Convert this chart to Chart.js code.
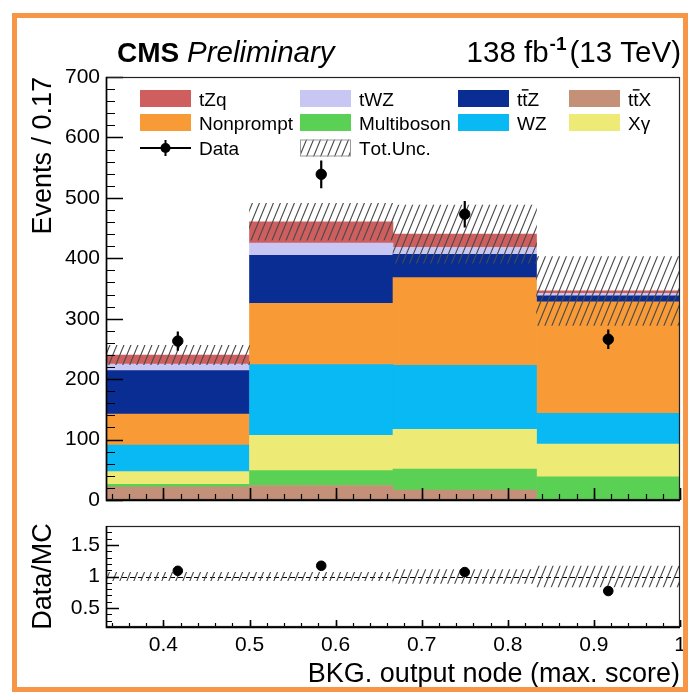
<!DOCTYPE html>
<html><head><meta charset="utf-8">
<script src="https://cdn.jsdelivr.net/npm/chart.js@4.4.1/dist/chart.umd.min.js"></script>
<style>
html,body{margin:0;padding:0;background:#fff;}
#wrap{position:relative;width:692px;height:695px;overflow:hidden;background:#fff;}
#frame{position:absolute;left:12px;top:13px;width:676px;height:679px;box-sizing:border-box;border:5px solid #F79646;pointer-events:none;}
#c1{position:absolute;left:0;top:0;}
#c2{position:absolute;left:0;top:515px;}
</style></head><body>
<div id="wrap"><canvas id="c1" width="692" height="515"></canvas><canvas id="c2" width="692" height="180"></canvas><div id="frame"></div></div>
<script>
// ---------------- data ----------------
const binLabels = ['0.333-0.5', '0.5-0.667', '0.667-0.833', '0.833-1'];
const binCenters = [0.4167, 0.5833, 0.75, 0.9167];
const xRange = [0.3333, 1.0];

const ttX        = [22, 24, 16.5, 0];
const multiboson = [4, 24.5, 34.5, 38.5];
const xgamma     = [21, 58.5, 66, 54];
const wz         = [44, 117, 106, 51];
const nonprompt  = [51, 101.5, 145, 184.5];
const ttZ        = [72, 79.5, 38.5, 10];
const tWZ        = [11, 20, 11.5, 4];
const tZq        = [15, 35.5, 22, 4];

const totUncUp   = [256, 491, 488, 403];
const totUncDown = [224, 430, 392, 289];

const dataVals = [263, 539, 473, 266];
const dataErr  = [16, 23, 22, 16];

const ratioVals     = [1.09, 1.17, 1.07, 0.77];
const ratioUncUp    = [1.065, 1.066, 1.11, 1.165];
const ratioUncDown  = [0.935, 0.934, 0.89, 0.835];

const yTicksMain  = [0, 100, 200, 300, 400, 500, 600, 700];
const yTicksRatio = [0.5, 1, 1.5];
const xTicks      = [0.4, 0.5, 0.6, 0.7, 0.8, 0.9, 1];
const xTickLabels = ['0.4', '0.5', '0.6', '0.7', '0.8', '0.9', '1'];

const legendNames = ['tZq', 'tWZ', 'tt\u0304Z', 'tt\u0304X', 'Nonprompt', 'Multiboson', 'WZ', 'X\u03b3', 'Data', 'Tot.Unc.'];

// ---------------- styles ----------------
const FONT = "'Liberation Sans', Arial, Helvetica, sans-serif";
Chart.defaults.font.family = FONT;
Chart.defaults.color = '#000';

const COL = {
  tZq: '#CF5E5F', tWZ: '#C8C7F4', ttZ: '#0A2D93', ttX: '#C49178',
  nonprompt: '#F89A36', multiboson: '#5AD155', wz: '#08B9F4', xgamma: '#EEEA76'
};

function makeHatch(canvas, color) {
  const w = 7, h = 17;
  const c = document.createElement('canvas'); c.width = w; c.height = h;
  const g = c.getContext('2d');
  g.strokeStyle = color; g.lineWidth = 1.1;
  g.beginPath();
  for (let n = 0; n <= 2; n++) { g.moveTo(n * w - 2 * w, 2 * h); g.lineTo(n * w + w, -h); }
  g.stroke();
  return canvas.getContext('2d').createPattern(c, 'repeat');
}

function drawRich(ctx, text, x, yBase, size) {
  let cx = x;
  const chars = Array.from(text);
  for (let i = 0; i < chars.length; i++) {
    const ch = chars[i];
    if (ch === '\u0304') continue;
    const bar = chars[i + 1] === '\u0304';
    ctx.fillText(ch, cx, yBase);
    const w = ctx.measureText(ch).width;
    if (bar) ctx.fillRect(cx - 0.5, yBase - 0.86 * size, w + 1.5, 1.4);
    cx += w;
  }
}

const yMinorMain = []; for (let k = 0; k <= 35; k++) yMinorMain.push(k * 20);
const xMinor = []; for (let k = 17; k <= 50; k++) xMinor.push(+(k * 0.02).toFixed(2));
const yMinorRatio = []; for (let k = 3; k <= 17; k++) yMinorRatio.push(+(k * 0.1).toFixed(1));

const frameTicks = {
  id: 'frameTicks',
  afterDatasetsDraw(chart, args, o) {
    const ctx = chart.ctx, a = chart.chartArea;
    const xs = chart.scales.x, ys = chart.scales.y;
    ctx.save();
    ctx.strokeStyle = '#000';
    const seg = (list, major, len, horiz) => {
      ctx.beginPath();
      list.forEach(v => {
        if (horiz) {
          const p = Math.round(ys.getPixelForValue(v)) + 0.5;
          if (p < a.top || p > a.bottom + 1) return;
          ctx.moveTo(a.left, p); ctx.lineTo(a.left + len, p);
        } else {
          const p = Math.round(xs.getPixelForValue(v)) + 0.5;
          if (p < a.left - 1 || p > a.right + 1) return;
          ctx.moveTo(p, a.bottom); ctx.lineTo(p, a.bottom - len);
        }
      });
      ctx.lineWidth = major ? 1.6 : 1.2;
      ctx.stroke();
    };
    seg(o.yMinor, false, o.yMinorLen, true);
    seg(o.yMajor, true, o.yMajorLen, true);
    seg(xMinor, false, o.xMinorLen, false);
    seg(xTicks, true, o.xMajorLen, false);
    ctx.lineWidth = 1.2;
    ctx.strokeStyle = '#222';
    ctx.strokeRect(a.left + 0.5, a.top + 0.5, a.right - a.left - 1, a.bottom - a.top - 1);
    ctx.lineWidth = 1.6; ctx.strokeStyle = '#000';
    ctx.beginPath(); ctx.moveTo(a.left + 0.5, a.top); ctx.lineTo(a.left + 0.5, a.bottom + 0.5); ctx.lineTo(a.right, a.bottom + 0.5); ctx.stroke();
    ctx.restore();
  }
};

// ---------------- main chart ----------------
const c1 = document.getElementById('c1');
const hatch1 = makeHatch(c1, '#4a4a4a');

const stackDefs = [
  ['tt\u0304X', ttX, COL.ttX], ['Multiboson', multiboson, COL.multiboson], ['X\u03b3', xgamma, COL.xgamma],
  ['WZ', wz, COL.wz], ['Nonprompt', nonprompt, COL.nonprompt], ['tt\u0304Z', ttZ, COL.ttZ],
  ['tWZ', tWZ, COL.tWZ], ['tZq', tZq, COL.tZq]
];

const errBars = {
  id: 'errBars',
  afterDatasetsDraw(chart) {
    const ctx = chart.ctx, xs = chart.scales.x, ys = chart.scales.y;
    ctx.save(); ctx.strokeStyle = '#000'; ctx.lineWidth = 2.2;
    ctx.beginPath();
    binCenters.forEach((c, i) => {
      const px = xs.getPixelForValue(c);
      ctx.moveTo(px, ys.getPixelForValue(dataVals[i] - dataErr[i]));
      ctx.lineTo(px, ys.getPixelForValue(dataVals[i] + dataErr[i]));
    });
    ctx.stroke(); ctx.restore();
  }
};

const legendAndHeader = {
  id: 'legendAndHeader',
  afterDraw(chart) {
    const ctx = chart.ctx;
    ctx.save();
    ctx.fillStyle = '#000'; ctx.textBaseline = 'alphabetic'; ctx.textAlign = 'left';
    ctx.font = `bold 28px ${FONT}`;
    ctx.fillText('CMS', 117, 62);
    const wCMS = ctx.measureText('CMS ').width;
    ctx.font = `italic 29.5px ${FONT}`;
    ctx.fillText('Preliminary', 117 + wCMS, 62);
    const big = `29.5px ${FONT}`, sup = `bold 19px ${FONT}`;
    ctx.font = big;
    const p3 = '(13 TeV)', p1 = '138 fb';
    const w3 = ctx.measureText(p3).width, w1 = ctx.measureText(p1).width;
    ctx.font = sup;
    const w2 = ctx.measureText('-1').width;
    let xr = 681 - w3;
    ctx.font = big;
    ctx.fillText(p3, xr, 62);
    xr -= w2 + 3;
    ctx.font = sup;
    ctx.fillText('-1', xr, 50);
    xr -= w1 + 1;
    ctx.font = big;
    ctx.fillText(p1, xr, 62);

    const colX = [140, 300, 458, 569];
    const rowY = [98.5, 122.5, 148];
    const boxW = 51, boxH = 17, size = 19;
    const boxColors = [COL.tZq, COL.tWZ, COL.ttZ, COL.ttX, COL.nonprompt, COL.multiboson, COL.wz, COL.xgamma];
    ctx.font = `${size}px ${FONT}`;
    for (let i = 0; i < 10; i++) {
      const r = Math.floor(i / 4), cIdx = i % 4;
      const x = colX[cIdx], yc = rowY[r];
      if (i < 8) {
        ctx.fillStyle = boxColors[i];
        ctx.fillRect(x, yc - boxH / 2, boxW, boxH);
      } else if (i === 8) {
        ctx.strokeStyle = '#000'; ctx.lineWidth = 2;
        ctx.beginPath(); ctx.moveTo(x, yc); ctx.lineTo(x + boxW, yc);
        ctx.moveTo(x + boxW / 2, yc - 8); ctx.lineTo(x + boxW / 2, yc + 8); ctx.stroke();
        ctx.fillStyle = '#000';
        ctx.beginPath(); ctx.arc(x + boxW / 2, yc, 5, 0, Math.PI * 2); ctx.fill();
      } else {
        ctx.fillStyle = '#fff'; ctx.fillRect(x, yc - boxH / 2, boxW, boxH);
        ctx.fillStyle = hatch1; ctx.fillRect(x, yc - boxH / 2, boxW, boxH);
        ctx.strokeStyle = '#9a9a9a'; ctx.lineWidth = 1;
        ctx.strokeRect(x + 0.5, yc - boxH / 2 + 0.5, boxW - 1, boxH - 1);
      }
      ctx.fillStyle = '#000';
      drawRich(ctx, legendNames[i], x + boxW + 8, yc + 7, size);
    }
    ctx.restore();
  }
};

new Chart(c1, {
  type: 'bar',
  data: {
    labels: binLabels,
    datasets: [
      { type: 'scatter', label: 'Data', data: binCenters.map((x, i) => ({ x, y: dataVals[i] })),
        xAxisID: 'x', yAxisID: 'y', stack: 'data', pointRadius: 5.2, pointHoverRadius: 5.2,
        backgroundColor: '#000', borderColor: '#000', order: 0 },
      { type: 'bar', label: 'Tot.Unc.', data: totUncDown.map((d, i) => [d, totUncUp[i]]),
        xAxisID: 'xc', yAxisID: 'y', stack: 'unc', grouped: false, backgroundColor: hatch1,
        borderWidth: 0, barPercentage: 1, categoryPercentage: 1, order: 1 },
      ...stackDefs.map((s, k) => ({
        type: 'bar', label: s[0], data: s[1], backgroundColor: s[2], borderWidth: 0, grouped: false,
        xAxisID: 'xc', yAxisID: 'y', stack: 'mc', barPercentage: 1, categoryPercentage: 1, order: 2 + k
      }))
    ]
  },
  options: {
    responsive: false, animation: false, devicePixelRatio: 1,
    layout: { autoPadding: false, padding: { left: 0, right: 12, top: 77, bottom: 15 } },
    plugins: { legend: { display: false }, tooltip: { enabled: false },
      frameTicks: { yMajor: yTicksMain, yMinor: yMinorMain, yMajorLen: 17, yMinorLen: 9, xMajorLen: 12, xMinorLen: 6 } },
    scales: {
      xc: { type: 'category', labels: binLabels, offset: true, display: false },
      x: { type: 'linear', min: xRange[0], max: xRange[1], display: false, offset: false, grid: { offset: false } },
      y: { type: 'linear', stacked: true, min: 0, max: 700, position: 'left',
        afterFit: s => { s.width = 106; s.paddingTop = 0; s.paddingBottom = 0; },
        afterBuildTicks: s => { s.ticks = yTicksMain.map(v => ({ value: v })); },
        grid: { display: false, drawTicks: false }, border: { display: false },
        ticks: { padding: 6, font: { size: 21 }, color: '#000', callback: v => String(v) },
        title: { display: true, text: 'Events / 0.17', align: 'end', font: { size: 27 }, padding: { top: 27 }, color: '#000' }
      }
    }
  },
  plugins: [frameTicks, errBars, legendAndHeader]
});

// ---------------- ratio chart ----------------
const c2 = document.getElementById('c2');
const hatch2 = makeHatch(c2, '#4a4a4a');

const unityLine = {
  id: 'unityLine',
  beforeDatasetsDraw(chart) {
    const ctx = chart.ctx, a = chart.chartArea, ys = chart.scales.y;
    const p = Math.round(ys.getPixelForValue(1)) + 0.5;
    ctx.save(); ctx.strokeStyle = '#000'; ctx.lineWidth = 1; ctx.setLineDash([5, 3]);
    ctx.beginPath(); ctx.moveTo(a.left, p); ctx.lineTo(a.right, p); ctx.stroke(); ctx.restore();
  }
};

new Chart(c2, {
  type: 'bar',
  data: {
    labels: binLabels,
    datasets: [
      { type: 'scatter', label: 'Data/MC', data: binCenters.map((x, i) => ({ x, y: ratioVals[i] })),
        xAxisID: 'x', yAxisID: 'y', pointRadius: 4.8, pointHoverRadius: 4.8,
        backgroundColor: '#000', borderColor: '#000', order: 0 },
      { type: 'bar', label: 'Unc', data: ratioUncDown.map((d, i) => [d, ratioUncUp[i]]),
        xAxisID: 'xc', yAxisID: 'y', backgroundColor: hatch2, borderWidth: 0, grouped: false,
        barPercentage: 1, categoryPercentage: 1, order: 1 }
    ]
  },
  options: {
    responsive: false, animation: false, devicePixelRatio: 1,
    layout: { autoPadding: false, padding: { left: 0, right: 12, top: 11, bottom: 0 } },
    plugins: { legend: { display: false }, tooltip: { enabled: false },
      frameTicks: { yMajor: yTicksRatio, yMinor: yMinorRatio, yMajorLen: 13, yMinorLen: 6, xMajorLen: 7, xMinorLen: 4 } },
    scales: {
      xc: { type: 'category', labels: binLabels, offset: true, display: false },
      x: { type: 'linear', min: xRange[0], max: xRange[1], position: 'bottom', offset: false,
        afterFit: s => { s.height = 68; s.paddingLeft = 0; s.paddingRight = 0; },
        afterBuildTicks: s => { s.ticks = xTicks.map(v => ({ value: v })); },
        grid: { display: false, drawTicks: false, offset: false }, border: { display: false },
        ticks: { padding: 6, font: { size: 21 }, color: '#000', autoSkip: false, maxRotation: 0,
          callback: (v, i) => xTickLabels[i] },
        title: { display: true, text: 'BKG. output node (max. score)', align: 'end', font: { size: 27 }, padding: { bottom: 4 }, color: '#000' }
      },
      y: { type: 'linear', min: 0.2, max: 1.8, position: 'left',
        afterFit: s => { s.width = 106; s.paddingTop = 0; s.paddingBottom = 0; },
        afterBuildTicks: s => { s.ticks = yTicksRatio.map(v => ({ value: v })); },
        grid: { display: false, drawTicks: false }, border: { display: false },
        ticks: { padding: 6, font: { size: 21 }, color: '#000', callback: v => String(v) },
        title: { display: true, text: 'Data/MC', align: 'center', font: { size: 27 }, padding: { top: 27 }, color: '#000' }
      }
    }
  },
  plugins: [unityLine, frameTicks]
});
</script>
</body></html>
